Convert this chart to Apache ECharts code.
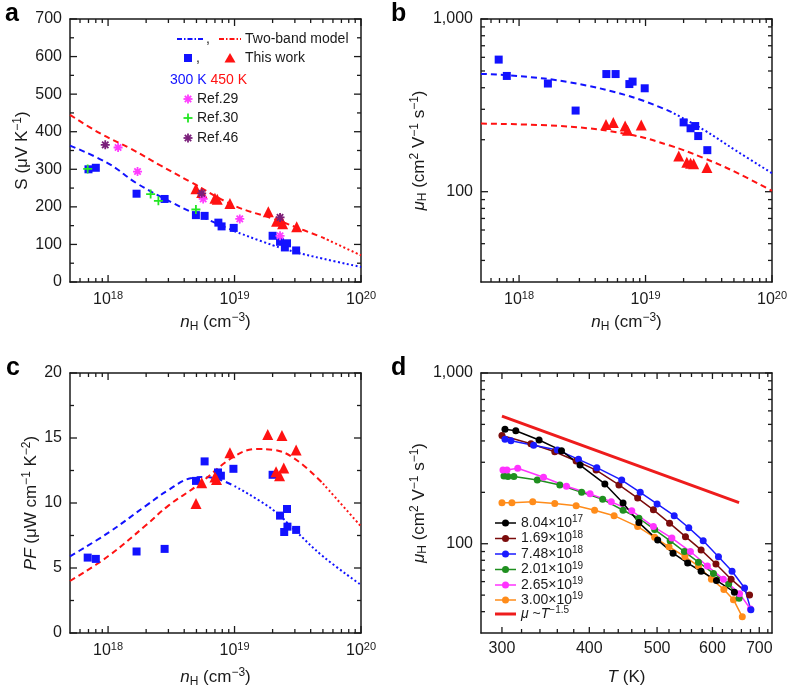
<!DOCTYPE html>
<html lang="en">
<head>
<meta charset="UTF-8">
<title>Seebeck, mobility and power factor</title>
<script src="https://cdn.jsdelivr.net/npm/echarts@6/dist/echarts.min.js"></script>
<style>html,body{margin:0;padding:0;background:#fff;}</style>
</head>
<body>
<div id="chart" style="width:788px;height:690px;"></div>
<script>
// ---- panel a : Seebeck coefficient vs Hall concentration ----
const aWork300 = [[7.0e17,300],[8.0e17,304],[1.68e18,235],[2.8e18,221],[4.95e18,178],[5.8e18,176],[7.45e18,158],[7.9e18,148],[9.85e18,144],[2.0e19,123],[2.29e19,107],[2.5e19,92],[2.6e19,103],[3.07e19,84]];
const aWork450 = [[4.95e18,248],[5.5e18,238],[7.0e18,223],[7.3e18,220],[9.2e18,209],[1.85e19,187],[2.15e19,162],[2.3e19,170],[2.4e19,155],[3.1e19,147]];
const aRef29 = [[1.2e18,358],[1.71e18,294],[5.65e18,221],[1.1e19,168],[2.29e19,123]];
const aRef30 = [[6.9e17,301],[2.17e18,234],[2.5e18,216],[4.95e18,193]];
const aRef46 = [[9.5e17,365],[5.5e18,236],[2.29e19,172]];
const aModel300 = [[5e17,363],[1e18,316],[1.68e18,263],[3.1e18,214],[5e18,180],[1e19,135],[2e19,98],[3e19,80],[5e19,62],[1e20,40]];
const aModel450 = [[5e17,445],[8.6e17,396],[1.49e18,356],[2.57e18,311],[4.45e18,267],[1e19,203],[2e19,169],[3e19,147],[5e19,118],[1e20,71]];

// ---- panel b : Hall mobility vs Hall concentration ----
const bWork300 = [[6.9e17,582],[8.0e17,468],[1.69e18,423],[2.8e18,295],[4.9e18,480],[5.8e18,480],[7.45e18,420],[7.9e18,434],[9.85e18,397],[2.0e19,252],[2.27e19,233],[2.47e19,240],[2.61e19,210],[3.08e19,174]];
const bWork450 = [[4.87e18,245],[5.56e18,252],[6.9e18,240],[7.2e18,227],[9.25e18,243],[1.83e19,161],[2.12e19,148],[2.27e19,146],[2.4e19,145],[3.06e19,138]];
const bModel300 = [[5e17,481],[1e18,467],[2.5e18,430],[7.5e18,357],[1.56e19,292],[2.86e19,229],[5.25e19,172],[1e20,128]];
const bModel450 = [[5e17,248],[2.5e18,238],[7.5e18,214],[1.56e19,185],[2.86e19,157],[5.25e19,129],[1e20,101]];

// ---- panel c : power factor vs Hall concentration ----
const cWork300 = [[6.9e17,5.8],[8.0e17,5.7],[1.68e18,6.27],[2.8e18,6.47],[4.96e18,11.7],[5.8e18,13.2],[7.4e18,12.35],[7.8e18,12.1],[9.8e18,12.63],[2.0e19,12.17],[2.29e19,9.03],[2.47e19,7.77],[2.6e19,9.54],[2.62e19,8.18],[3.07e19,7.93]];
const cWork450 = [[4.96e18,9.97],[5.5e18,11.56],[7.0e18,12.0],[7.2e18,11.8],[9.2e18,13.86],[1.83e19,15.27],[2.13e19,12.4],[2.27e19,12.1],[2.37e19,15.2],[2.45e19,12.7],[3.07e19,14.07]];
const cModel300 = [[5e17,5.9],[1e18,7.7],[2e18,9.8],[3e18,11.0],[4.5e18,11.9],[6e18,12.0],[1e19,11.3],[2e19,9.5],[3e19,7.9],[5e19,5.9],[1e20,3.7]];
const cModel450 = [[5e17,4.0],[1e18,5.9],[2e18,8.3],[3e18,9.8],[5e18,11.3],[1e19,13.6],[1.5e19,14.15],[2e19,14.1],[3e19,13.4],[5e19,11.5],[1e20,8.2]];

// ---- panel d : Hall mobility vs temperature ----
const dLabels = ['8.04×10{s|17}', '1.69×10{s|18}', '7.48×10{s|18}', '2.01×10{s|19}', '2.65×10{s|19}', '3.00×10{s|19}'];
const dN804e17 = [[303,468],[314,459],[339,405],[365,351],[388,289],[421,224],[447,173],[471,133],[501,105],[527,88],[553,77],[578,69],[608,61],[645,52]];
const dN169e18 = [[300,430],[330,385],[357,346],[383,305],[409,270],[441,221],[469,185],[494,158],[521,132],[549,110],[578,92],[607,76],[638,62],[678,50]];
const dN748e18 = [[303,409],[309,401],[333,377],[360,354],[386,312],[410,279],[445,236],[473,200],[500,171],[529,146],[555,124],[582,104],[612,84],[640,69],[667,55],[681,41]];
const dN201e19 = [[302,249],[306,248],[312,248],[337,236],[363,221],[390,200],[418,182],[447,157],[471,141],[496,121],[522,104],[547,90],[573,78],[602,67],[633,58],[655,48]];
const dN265e19 = [[301,270],[305,270],[316,277],[344,245],[371,217],[401,196],[430,176],[460,156],[494,126],[525,108],[558,90],[590,74],[622,62],[656,51],[680,41.5]];
const dN300e19 = [[300,174],[310,174],[332,176],[357,172],[383,167],[407,157],[434,146],[469,126],[496,109],[520,96],[548,84],[573,74],[598,62],[623,54],[643,47],[662,37.3]];
const dPowerLaw = [[300,559],[655,174]];

// ---- tick values ----
const nTicks = [1e18, 1e19, 1e20];
const sTicks = [0, 100, 200, 300, 400, 500, 600, 700];
const pfTicks = [0, 5, 10, 15, 20];
const muTicks = [100, 1000];
const tTicks = [300, 400, 500, 600, 700];

// log axes are drawn as value axes over log10 of the data
const lg = function (v) { return Math.round(Math.log10(v) * 1e9) / 1e9; };
const lgX = function (d) { return d.map(function (p) { return [lg(p[0]), p[1]]; }); };
const lgXY = function (d) { return d.map(function (p) { return [lg(p[0]), lg(p[1])]; }); };

const nMinor = [];
[17, 18, 19].forEach(function (e) {
  for (let k = 2; k <= 9; k++) { const v = k * Math.pow(10, e); if (v > 5e17) nMinor.push(v); }
});
const muMinor = [];
[1, 2].forEach(function (e) {
  for (let k = 2; k <= 9; k++) { const v = k * Math.pow(10, e); if (v > 30) muMinor.push(v); }
});
const sMinor = sTicks.slice(0, -1).map(function (v) { return v + 50; });
const pfMinor = pfTicks.slice(0, -1).map(function (v) { return v + 2.5; });
const tMinor = [];
for (let t = 320; t <= 720; t += 20) { if (t % 100 !== 0) tMinor.push(t); }

const FONT = '"Liberation Sans", Arial, Helvetica, sans-serif';
const INK = '#1a1a1a';
const BLUE = '#1212ff', RED = '#ff1212', MAGENTA = '#ff3cff', LIME = '#22e622', PURPLE = '#7a1f7a';
const D_COLORS = ['#000000', '#7b0c0c', '#1a1aff', '#1f8f1f', '#ff33ff', '#ff8c1a'];

const ASTERISK = 'path://M-1,-5L1,-5L1,5L-1,5Z M-5,-1L5,-1L5,1L-5,1Z M2.83,-4.24L4.24,-2.83L-2.83,4.24L-4.24,2.83Z M-4.24,-2.83L-2.83,-4.24L4.24,2.83L2.83,4.24Z';
const PLUS = 'path://M-1,-5L1,-5L1,-1L5,-1L5,1L1,1L1,5L-1,5L-1,1L-5,1L-5,-1L-1,-1Z';

function makeRich(size) {
  const small = Math.round(size * 0.7);
  return {
    t: { fontFamily: FONT, fontSize: size, color: INK },
    i: { fontFamily: FONT, fontSize: size, fontStyle: 'italic', color: INK },
    s: { fontFamily: FONT, fontSize: small, color: INK, padding: [0, 0, Math.round(size * 0.5), 0] },
    u: { fontFamily: FONT, fontSize: small, color: INK, padding: [Math.round(size * 0.45), 0, 0, 0] }
  };
}
const labelRich = makeRich(16);
const nameRich = makeRich(17);

const grids = [
  { left: 70, top: 19, width: 291, height: 263 },
  { left: 481, top: 19, width: 291, height: 263 },
  { left: 70, top: 373, width: 291, height: 260 },
  { left: 481, top: 373, width: 291, height: 260 }
].map(function (g) { return Object.assign({ outerBoundsMode: 'none', containLabel: false }, g); });

const xAxes = [];
const yAxes = [];

// a labelled axis plus a bare mirror axis, so each panel is boxed
function framed(list, grid, range, sides, labelCfg, nameCfg) {
  const first = list.length;
  sides.forEach(function (side, k) {
    const ax = { gridIndex: grid, position: side, type: 'value', min: range[0], max: range[1], splitLine: { show: false } };
    ax.axisLine = { show: true, onZero: false, lineStyle: { color: INK, width: 1.5 } };
    ax.axisTick = { show: false };
    ax.axisLabel = { show: false };
    if (k === 0) {
      ax.axisLabel = Object.assign({
        show: true, customValues: labelCfg.values.slice(), margin: 8,
        fontFamily: FONT, fontSize: 16, color: INK, rich: labelRich
      }, labelCfg.extra || {});
      Object.assign(ax, {
        name: nameCfg.name, nameLocation: 'middle', nameGap: nameCfg.gap,
        nameTextStyle: { fontFamily: FONT, fontSize: 17, color: INK, rich: nameRich }
      });
    }
    list.push(ax);
  });
  return first;
}

const powLabel = function (v) { return '{t|10}{s|' + Math.round(v) + '}'; };
const muLabel = function (v) { const m = Math.round(Math.pow(10, v)); return m >= 1000 ? '1,000' : String(m); };
const tLabel = function (v) { return String(Math.round(Math.pow(10, v))); };
const nRange = [lg(5e17), lg(1e20)];
const muRange = [lg(30), lg(1000)];
const tRange = [lg(280), lg(730)];
const nName = { name: '{i|n}{u|H}{t| (cm}{s|−3}{t|)}', gap: 30 };
const nNameLow = { name: '{i|n}{u|H}{t| (cm}{s|−3}{t|)}', gap: 34 };
const muName = { name: '{i|μ}{u|H}{t| (cm}{s|2}{t| V}{s|−1}{t| s}{s|−1}{t|)}', gap: 50 };
const nT = nTicks.map(lg), nM = nMinor.map(lg), muT = muTicks.map(lg), muM = muMinor.map(lg);
const tT = tTicks.map(lg), tM = tMinor.map(lg);

const xa = framed(xAxes, 0, nRange, ['bottom', 'top'], { values: nT, extra: { formatter: powLabel } }, nName);
const ya = framed(yAxes, 0, [0, 700], ['left', 'right'], { values: sTicks }, { name: '{t|S (μV K}{s|−1}{t|)}', gap: 37 });
const xb = framed(xAxes, 1, nRange, ['bottom', 'top'], { values: nT, extra: { formatter: powLabel } }, nName);
const yb = framed(yAxes, 1, muRange, ['left', 'right'], { values: muT, extra: { formatter: muLabel } }, muName);
const xc = framed(xAxes, 2, nRange, ['bottom', 'top'], { values: nT, extra: { formatter: powLabel } }, nNameLow);
const yc = framed(yAxes, 2, [0, 20], ['left', 'right'], { values: pfTicks }, { name: '{i|PF}{t| (μW cm}{s|−1}{t| K}{s|−2}{t|)}', gap: 28 });
const xd = framed(xAxes, 3, tRange, ['bottom', 'top'], { values: tT, extra: { formatter: tLabel } }, { name: '{i|T}{t| (K)}', gap: 36 });
const yd = framed(yAxes, 3, muRange, ['left', 'right'], { values: muT, extra: { formatter: muLabel } }, muName);

const series = [];

// inward tick marks on all four sides, placed through the panel's own axes
function ticks(xi, yi, xr, yr, xMaj, xMin, yMaj, yMin, xLens) {
  const mk = function (data, size, offset) {
    series.push({
      type: 'scatter', xAxisIndex: xi, yAxisIndex: yi, data: data, z: 1,
      symbol: 'rect', symbolSize: size, symbolOffset: offset,
      silent: true, clip: false, itemStyle: { color: INK, opacity: 1 }
    });
  };
  [[xMaj, xLens[0]], [xMin, xLens[1]]].forEach(function (p) {
    mk(p[0].map(function (v) { return [v, yr[0]]; }), [1.3, p[1]], [0, -p[1] / 2]);
    mk(p[0].map(function (v) { return [v, yr[1]]; }), [1.3, p[1]], [0, p[1] / 2]);
  });
  [[yMaj, 7], [yMin, 4]].forEach(function (p) {
    mk(p[0].map(function (v) { return [xr[0], v]; }), [p[1], 1.3], [p[1] / 2, 0]);
    mk(p[0].map(function (v) { return [xr[1], v]; }), [p[1], 1.3], [-p[1] / 2, 0]);
  });
}
ticks(xa, ya, nRange, [0, 700], nT, nM, sTicks, sMinor, [7, 4]);
ticks(xb, yb, nRange, muRange, nT, nM, muT, muM, [7, 4]);
ticks(xc, yc, nRange, [0, 20], nT, nM, pfTicks, pfMinor, [7, 4]);
ticks(xd, yd, tRange, muRange, tT, tM, muT, muM, [6, 4]);

function curve(xi, yi, data, color, dash) {
  series.push({
    type: 'line', xAxisIndex: xi, yAxisIndex: yi, data: data, smooth: 0.4,
    symbol: 'none', silent: true,
    lineStyle: { color: color, width: 2, type: dash }
  });
}
function dots(xi, yi, data, color, symbol, size) {
  series.push({
    type: 'scatter', xAxisIndex: xi, yAxisIndex: yi, data: data, z: 3,
    symbol: symbol, symbolSize: size, itemStyle: { color: color, opacity: 1 }
  });
}
const DASH = [6, 4], DOT = [2, 2.5];

// a
curve(xa, ya, lgX(aModel300.slice(0, 6)), BLUE, DASH);
curve(xa, ya, lgX(aModel300.slice(5)), BLUE, DOT);
curve(xa, ya, lgX(aModel450.slice(0, 9)), RED, DASH);
curve(xa, ya, lgX(aModel450.slice(8)), RED, DOT);
dots(xa, ya, lgX(aWork300), BLUE, 'rect', 8);
dots(xa, ya, lgX(aWork450), RED, 'triangle', 11);
dots(xa, ya, lgX(aRef29), MAGENTA, ASTERISK, 9);
dots(xa, ya, lgX(aRef30), LIME, PLUS, 9);
dots(xa, ya, lgX(aRef46), PURPLE, ASTERISK, 9);
// b
curve(xb, yb, lgXY(bModel300.slice(0, 5)), BLUE, DASH);
curve(xb, yb, lgXY(bModel300.slice(4)), BLUE, DOT);
curve(xb, yb, lgXY(bModel450), RED, DASH);
dots(xb, yb, lgXY(bWork300), BLUE, 'rect', 8);
dots(xb, yb, lgXY(bWork450), RED, 'triangle', 11);
// c
curve(xc, yc, lgX(cModel300.slice(0, 7)), BLUE, DASH);
curve(xc, yc, lgX(cModel300.slice(6)), BLUE, DOT);
curve(xc, yc, lgX(cModel450.slice(0, 10)), RED, DASH);
curve(xc, yc, lgX(cModel450.slice(9)), RED, DOT);
dots(xc, yc, lgX(cWork300), BLUE, 'rect', 8);
dots(xc, yc, lgX(cWork450), RED, 'triangle', 11);
// d (drawn back to front)
const dSets = [dN804e17, dN169e18, dN748e18, dN201e19, dN265e19, dN300e19];
[5, 3, 4, 1, 2, 0].forEach(function (k) {
  series.push({
    type: 'line', xAxisIndex: xd, yAxisIndex: yd, data: lgXY(dSets[k]), z: 3,
    symbol: 'circle', symbolSize: 7, showAllSymbol: true,
    lineStyle: { color: D_COLORS[k], width: 1.5 },
    itemStyle: { color: D_COLORS[k] }
  });
});
series.push({
  type: 'line', xAxisIndex: xd, yAxisIndex: yd, data: lgXY(dPowerLaw),
  symbol: 'none', lineStyle: { color: '#ee1c1c', width: 3 }
});

// ---- hand-placed legends and panel letters ----
function txt(x, y, text, extra) {
  return { type: 'text', x: x, y: y, silent: true, style: Object.assign({
    text: text, fontFamily: FONT, fontSize: 14, fill: INK, verticalAlign: 'middle'
  }, extra || {}) };
}
function seg(x1, x2, y, color, width, dash) {
  return { type: 'line', silent: true, shape: { x1: x1, y1: y, x2: x2, y2: y },
    style: { stroke: color, lineWidth: width, lineDash: dash || null } };
}
function star(cx, cy, color, plus) {
  const r = 4.5, g = [];
  const angs = plus ? [0, 90] : [0, 45, 90, 135];
  angs.forEach(function (a) {
    const dx = r * Math.cos(a * Math.PI / 180), dy = r * Math.sin(a * Math.PI / 180);
    g.push({ type: 'line', silent: true, shape: { x1: cx - dx, y1: cy - dy, x2: cx + dx, y2: cy + dy },
      style: { stroke: color, lineWidth: 1.8 } });
  });
  return g;
}
const letterStyle = { fontSize: 25, fontWeight: 'bold', fill: '#000', verticalAlign: 'bottom' };
const legendRich = {
  b: { fontFamily: FONT, fontSize: 14, fill: BLUE, color: BLUE },
  r: { fontFamily: FONT, fontSize: 14, fill: RED, color: RED },
  s: { fontFamily: FONT, fontSize: 10, fill: INK, padding: [0, 0, 7, 0] },
  i: { fontFamily: FONT, fontSize: 14, fontStyle: 'italic', fill: INK },
  t: { fontFamily: FONT, fontSize: 14, fill: INK }
};

let graphics = [
  txt(5, 27, 'a', letterStyle), txt(391, 27, 'b', letterStyle),
  txt(6, 381, 'c', letterStyle), txt(391, 381, 'd', letterStyle),
  seg(177, 204, 39, BLUE, 2, [5, 2, 1.5, 2]), txt(206, 39, ','),
  seg(219, 241, 39, RED, 2, [5, 2, 1.5, 2]), txt(245, 39, 'Two-band model'),
  { type: 'rect', silent: true, shape: { x: 184, y: 54, width: 8, height: 8 }, style: { fill: BLUE } },
  txt(196, 58, ','),
  { type: 'polygon', silent: true, shape: { points: [[230, 53], [235.5, 62.5], [224.5, 62.5]] }, style: { fill: RED } },
  txt(245, 58, 'This work'),
  txt(170, 80, '{b|300 K} {r|450 K}', { rich: legendRich }),
  txt(197, 99, 'Ref.29'), txt(197, 118, 'Ref.30'), txt(197, 138, 'Ref.46')
];
graphics = graphics.concat(star(188, 99, MAGENTA), star(188, 118, LIME, true), star(188, 138, PURPLE));

const dRows = [523, 538.5, 554, 569.5, 585, 600];
dRows.forEach(function (y, k) {
  graphics.push(seg(495, 516, y, D_COLORS[k], 1.5));
  graphics.push({ type: 'circle', silent: true, shape: { cx: 505.5, cy: y, r: 3.5 }, style: { fill: D_COLORS[k] } });
  graphics.push(txt(521, y, '{t|' + dLabels[k].replace('{s|', '}{s|'), { rich: legendRich }));
});
graphics.push(seg(495, 516, 614, '#ee1c1c', 3));
graphics.push(txt(521, 614, '{i|μ}{t| ~}{i|T}{s|−1.5}', { rich: legendRich }));

const chart = echarts.init(document.getElementById('chart'));
chart.setOption({
  animation: false,
  grid: grids,
  xAxis: xAxes,
  yAxis: yAxes,
  series: series,
  graphic: graphics
});
</script>
</body>
</html>
